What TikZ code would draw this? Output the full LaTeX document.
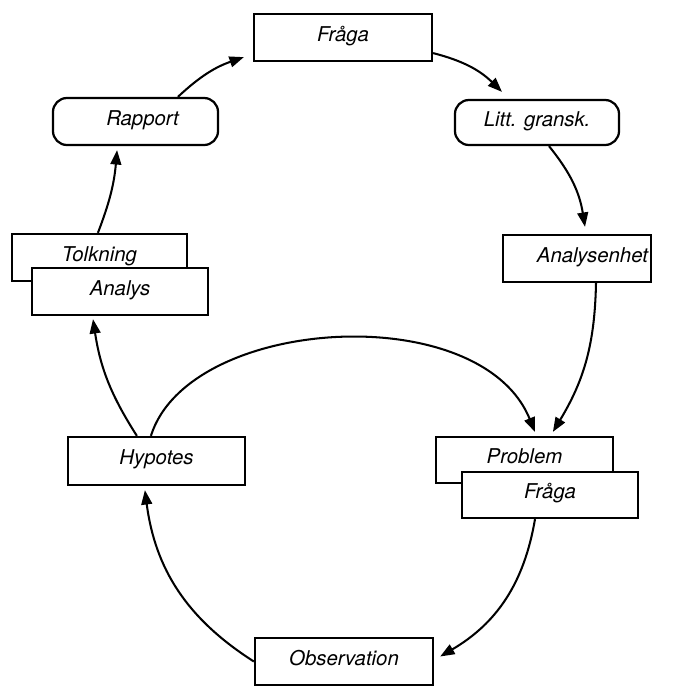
\documentclass[tikz,border=0pt]{standalone}
\usepackage{fontspec}
\setmainfont{TeX Gyre Heros}
\usetikzlibrary{arrows.meta}

\tikzset{
  px/.style={x=0.025cm,y=-0.025cm},
  plainbox/.style={draw, line width=1.6pt, fill=white, inner sep=0pt,
    minimum height=1.175cm, text height=0.75em, text depth=0.22em,
    font=\fontsize{14.5}{16}\selectfont\itshape},
  roundbox/.style={plainbox, rounded corners=0.35cm},
  flow/.style={line width=1.45pt, -{Triangle[length=3.6mm,width=2.7mm]}}
}

\begin{document}
\begin{tikzpicture}[px]
  \useasboundingbox (0,0) rectangle (686,686);

  % boxes of the cycle
  \node[plainbox, minimum width=4.45cm] (fraga) at (343,37.5) {Fråga};
  \node[roundbox, minimum width=4.1cm, minimum height=1.125cm] (litt) at (537,122.5) {Litt. gransk.};
  \node[plainbox, minimum width=3.7cm] (enhet) at (577,258.5) {\hspace*{22pt}Analysenhet};
  \node[plainbox, minimum width=4.425cm, minimum height=1.15cm] (problem) at (524.5,460) {Problem};
  \node[plainbox, minimum width=4.4cm, minimum height=1.15cm] (fraga2) at (550,495) {Fråga};
  \node[plainbox, minimum width=4.45cm] (obs) at (344,661.5) {Observation};
  \node[plainbox, minimum width=4.425cm, minimum height=1.2cm] (hypotes) at (156.5,461) {Hypotes};
  \node[plainbox, minimum width=4.375cm] (tolkning) at (99.5,257.5) {Tolkning};
  \node[plainbox, minimum width=4.4cm] (analys) at (120,291.5) {Analys};
  \node[roundbox, minimum width=4.125cm] (rapport) at (135.5,121.5) {\hspace*{10pt}Rapport};

  % outer cycle
  \draw[flow] ([xshift=1.06cm]rapport.north) to[bend left=12]
    ([xshift=-0.225cm,yshift=0.125cm]fraga.south west);
  \draw[flow] ([yshift=-0.39cm]fraga.east) to[bend left=15]
    ([xshift=-0.875cm,yshift=0.175cm]litt.north);
  \draw[flow] ([xshift=0.3cm]litt.south) to[bend left=15]
    ([xshift=0.2cm,yshift=0.175cm]enhet.north);
  \draw[flow] ([xshift=0.475cm]enhet.south) to[bend left=15]
    ([xshift=0.71cm,yshift=0.1cm]problem.north);

  % inner cycle
  \draw[flow] ([xshift=-0.375cm]fraga2.south) to[bend left=25]
    ([xshift=0.15cm,yshift=0.125cm]obs.east);
  \draw[flow] (obs.west) to[bend left=25]
    ([xshift=-0.29cm,yshift=-0.1cm]hypotes.south);
  \draw[flow] ([xshift=-0.14cm]hypotes.north)
    .. controls ([xshift=0.8cm,yshift=3.0cm]hypotes.north) and ([xshift=-1.1cm,yshift=3.45cm]problem.north)
    .. ([xshift=0.26cm,yshift=0.1cm]problem.north);

  % left side upwards
  \draw[flow] ([xshift=-0.49cm]hypotes.north) to[bend left=12]
    ([xshift=-0.675cm,yshift=-0.075cm]analys.south);
  \draw[flow] ([xshift=-0.04cm]tolkning.north) to[bend right=8]
    ([xshift=-0.46cm,yshift=-0.1cm]rapport.south);
\end{tikzpicture}
\end{document}
